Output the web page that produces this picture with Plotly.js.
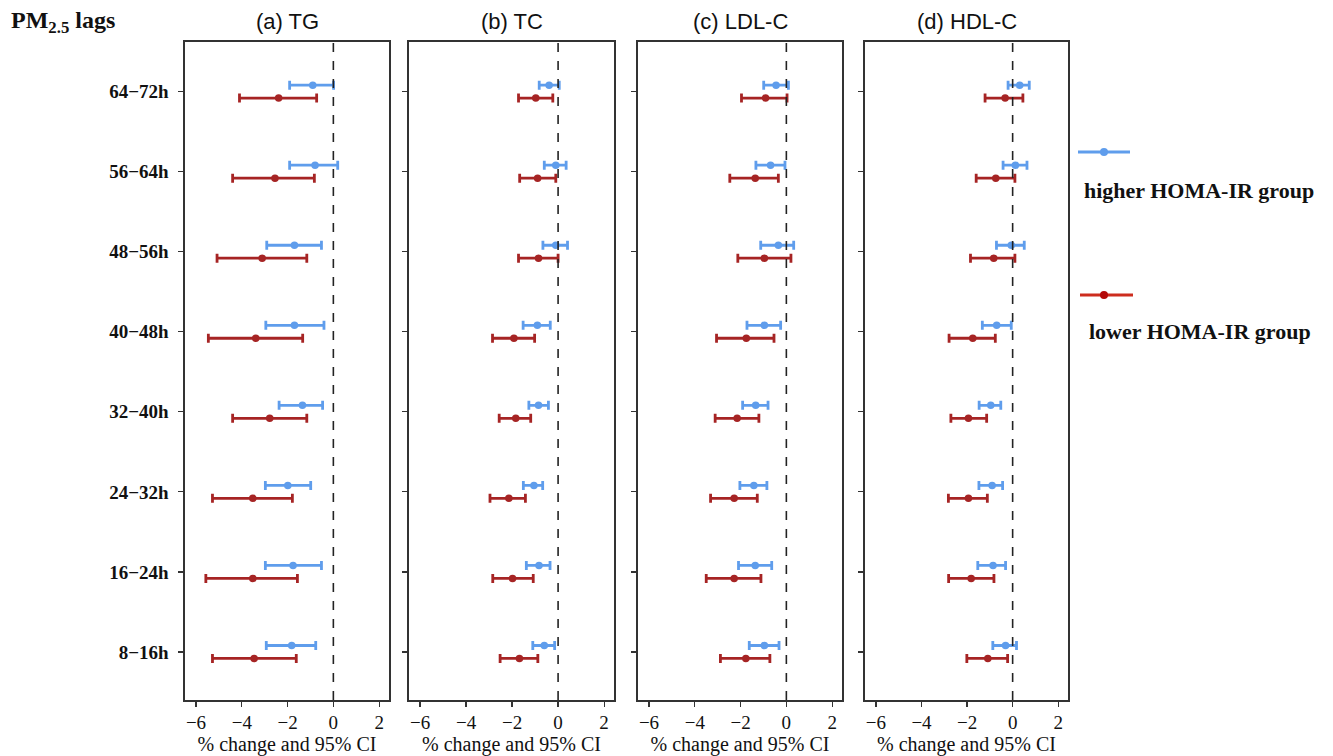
<!DOCTYPE html>
<html><head><meta charset="utf-8">
<script src="https://cdn.plot.ly/plotly-3.0.1.min.js"></script>
<style>html,body{margin:0;padding:0;background:#fff;}#chart{width:1333px;height:756px;}</style>
</head><body><div id="chart"></div>
<script>
// lag categories, bottom to top
const lags = ['8−16h','16−24h','24−32h','32−40h','40−48h','48−56h','56−64h','64−72h'];
const panelTitles = ['(a) TG','(b) TC','(c) LDL-C','(d) HDL-C'];
const groupNames = ['higher HOMA-IR group','lower HOMA-IR group'];

// (a) TG
const tg_hi_est = [-1.82,-1.76,-1.99,-1.35,-1.70,-1.70,-0.80,-0.90];
const tg_hi_lo  = [-2.93,-2.97,-2.97,-2.37,-2.95,-2.91,-1.91,-1.91];
const tg_hi_up  = [-0.77,-0.52,-0.99,-0.47,-0.41,-0.52, 0.19, 0.01];
const tg_lo_est = [-3.46,-3.52,-3.52,-2.78,-3.39,-3.11,-2.55,-2.39];
const tg_lo_lo  = [-5.28,-5.57,-5.28,-4.40,-5.46,-5.08,-4.40,-4.10];
const tg_lo_up  = [-1.62,-1.57,-1.79,-1.16,-1.34,-1.16,-0.83,-0.73];
// (b) TC
const tc_hi_est = [-0.60,-0.83,-1.05,-0.85,-0.90,-0.10,-0.10,-0.39];
const tc_hi_lo  = [-1.10,-1.38,-1.51,-1.27,-1.52,-0.66,-0.60,-0.82];
const tc_hi_up  = [-0.15,-0.35,-0.67,-0.42,-0.34, 0.41, 0.35, 0.05];
const tc_lo_est = [-1.68,-1.98,-2.14,-1.84,-1.92,-0.85,-0.89,-0.97];
const tc_lo_lo  = [-2.52,-2.84,-2.96,-2.56,-2.85,-1.72,-1.67,-1.72];
const tc_lo_up  = [-0.88,-1.08,-1.42,-1.19,-1.02, 0.00,-0.10,-0.23];
// (c) LDL-C
const ldl_hi_est = [-0.96,-1.36,-1.42,-1.34,-0.96,-0.35,-0.69,-0.45];
const ldl_hi_lo  = [-1.62,-2.09,-2.03,-1.91,-1.72,-1.12,-1.33,-0.99];
const ldl_hi_up  = [-0.32,-0.64,-0.85,-0.80,-0.25, 0.32,-0.06, 0.09];
const ldl_lo_est = [-1.77,-2.28,-2.28,-2.15,-1.75,-0.96,-1.36,-0.91];
const ldl_lo_lo  = [-2.88,-3.50,-3.31,-3.11,-3.05,-2.12,-2.47,-1.96];
const ldl_lo_up  = [-0.72,-1.11,-1.27,-1.20,-0.54, 0.20,-0.35, 0.03];
// (d) HDL-C
const hdl_hi_est = [-0.31,-0.86,-0.90,-0.96,-0.70,-0.06, 0.12, 0.31];
const hdl_hi_lo  = [-0.87,-1.53,-1.48,-1.47,-1.33,-0.71,-0.42,-0.20];
const hdl_hi_up  = [ 0.17,-0.31,-0.44,-0.52,-0.06, 0.51, 0.63, 0.73];
const hdl_lo_est = [-1.09,-1.82,-1.94,-1.94,-1.75,-0.83,-0.74,-0.33];
const hdl_lo_lo  = [-2.01,-2.81,-2.82,-2.71,-2.79,-1.85,-1.60,-1.21];
const hdl_lo_up  = [-0.22,-0.82,-1.11,-1.14,-0.76, 0.10, 0.10, 0.45];

const xTickVals = [-6,-4,-2,0,2];

const panels = [
  {hi:[tg_hi_est,tg_hi_lo,tg_hi_up], lo:[tg_lo_est,tg_lo_lo,tg_lo_up]},
  {hi:[tc_hi_est,tc_hi_lo,tc_hi_up], lo:[tc_lo_est,tc_lo_lo,tc_lo_up]},
  {hi:[ldl_hi_est,ldl_hi_lo,ldl_hi_up], lo:[ldl_lo_est,ldl_lo_lo,ldl_lo_up]},
  {hi:[hdl_hi_est,hdl_hi_lo,hdl_hi_up], lo:[hdl_lo_est,hdl_lo_lo,hdl_lo_up]}
];

const W = 1333, H = 756;
const BLUE = 'rgb(95,157,236)', RED = 'rgb(166,36,36)';
const SERIF = 'Liberation Serif, Times New Roman, serif';
const SANS = 'Liberation Sans, Arial, sans-serif';
const pxDomains = [[185,389],[409,614],[638,842],[865,1068]];
const yDom = [1-700/H, 1-42/H];
const OFF = 0.081;

const traces = [];
const layout = {
  width: W, height: H, margin:{l:0,r:0,t:0,b:0},
  paper_bgcolor:'#fff', plot_bgcolor:'#fff', showlegend:false,
  annotations: [], shapes: []
};

const yPos = lags.map((_,i)=>i+1);

panels.forEach((p,k)=>{
  const xa = k===0 ? 'x' : 'x'+(k+1);
  const ya = k===0 ? 'y' : 'y'+(k+1);
  const xk = k===0 ? 'xaxis' : 'xaxis'+(k+1);
  const yk = k===0 ? 'yaxis' : 'yaxis'+(k+1);
  [['hi',BLUE,OFF],['lo',RED,-OFF]].forEach(([g,col,off])=>{
    const [est,lo,up] = p[g];
    traces.push({
      type:'scatter', mode:'markers', xaxis:xa, yaxis:ya,
      x: est, y: yPos.map(v=>v+off),
      marker:{color:col, size:7.5},
      error_x:{type:'data', symmetric:false,
        array: est.map((e,i)=>up[i]-e), arrayminus: est.map((e,i)=>e-lo[i]),
        color:col, thickness:2.8, width:4.5},
      hoverinfo:'x', cliponaxis:false
    });
  });
  layout[xk] = {
    domain:[pxDomains[k][0]/W, pxDomains[k][1]/W], anchor: ya,
    range:[-6.48,2.43], tickvals:xTickVals, ticks:'outside', ticklen:5, tickwidth:1.2,
    tickcolor:'#333', showgrid:false, zeroline:false, showline:true, mirror:true,
    linecolor:'#333', linewidth:1.6,
    tickfont:{family:SERIF, size:19, color:'#111'},
    title:{text:'% change and 95% CI', font:{family:SERIF, size:20, color:'#111'}, standoff:4},
    automargin:false
  };
  const yax = {
    domain:yDom, anchor: xa, range:[0.4,8.62],
    tickvals:yPos, showticklabels: k===0, ticks:'outside', ticklen:5, tickwidth:1.2, tickcolor:'#333',
    ticklabelstandoff: 6,
    showgrid:false, zeroline:false, showline:true, mirror:true,
    linecolor:'#333', linewidth:1.6,
    tickfont:{family:SERIF, size:19, color:'#111', weight:'bold'},
    automargin:false
  };
  if (k===0) yax.ticktext = lags;
  layout[yk] = yax;
  layout.shapes.push({type:'line', xref:xa, yref:ya+' domain', x0:0, x1:0, y0:0, y1:1,
    line:{color:'#222', width:1.6, dash:'dash'}});
  layout.annotations.push({xref:'paper', yref:'paper', x:(pxDomains[k][0]+pxDomains[k][1])/2/W,
    y:1-22/H, text:panelTitles[k], showarrow:false, xanchor:'center', yanchor:'middle',
    font:{family:SANS, size:22, color:'#111'}});
});

// header
layout.annotations.push({xref:'paper', yref:'paper', x:9/W, y:1-22/H, xanchor:'left', yanchor:'middle',
  text:'<b>PM<sub>2.5</sub> lags</b>', showarrow:false, font:{family:SERIF, size:24, color:'#111'}});

// legend (drawn manually, keys with text below)
const legY = [152, 295];
const legTextY = [190, 331];
const legLine = [[1078,1130],[1080,1133]];
const legLineCol = [BLUE, 'rgb(205,45,30)'];
const legDotCol = [BLUE, 'rgb(180,10,10)'];
groupNames.forEach((name,i)=>{
  layout.shapes.push({type:'line', xref:'paper', yref:'paper',
    x0:legLine[i][0]/W, x1:legLine[i][1]/W, y0:1-legY[i]/H, y1:1-legY[i]/H,
    line:{color:legLineCol[i], width:3}});
  layout.shapes.push({type:'circle', xref:'paper', yref:'paper', fillcolor:legDotCol[i],
    line:{color:legDotCol[i], width:0},
    x0:(1104-4)/W, x1:(1104+4)/W, y0:1-(legY[i]+4)/H, y1:1-(legY[i]-4)/H});
  layout.annotations.push({xref:'paper', yref:'paper', x:(i===0?1082:1087)/W, y:1-legTextY[i]/H,
    xanchor:'left', yanchor:'middle', text:'<b>'+name+'</b>', showarrow:false,
    font:{family:SERIF, size:22, color:'#111'}});
});

Plotly.newPlot('chart', traces, layout, {displayModeBar:false, staticPlot:true});
</script></body></html>
